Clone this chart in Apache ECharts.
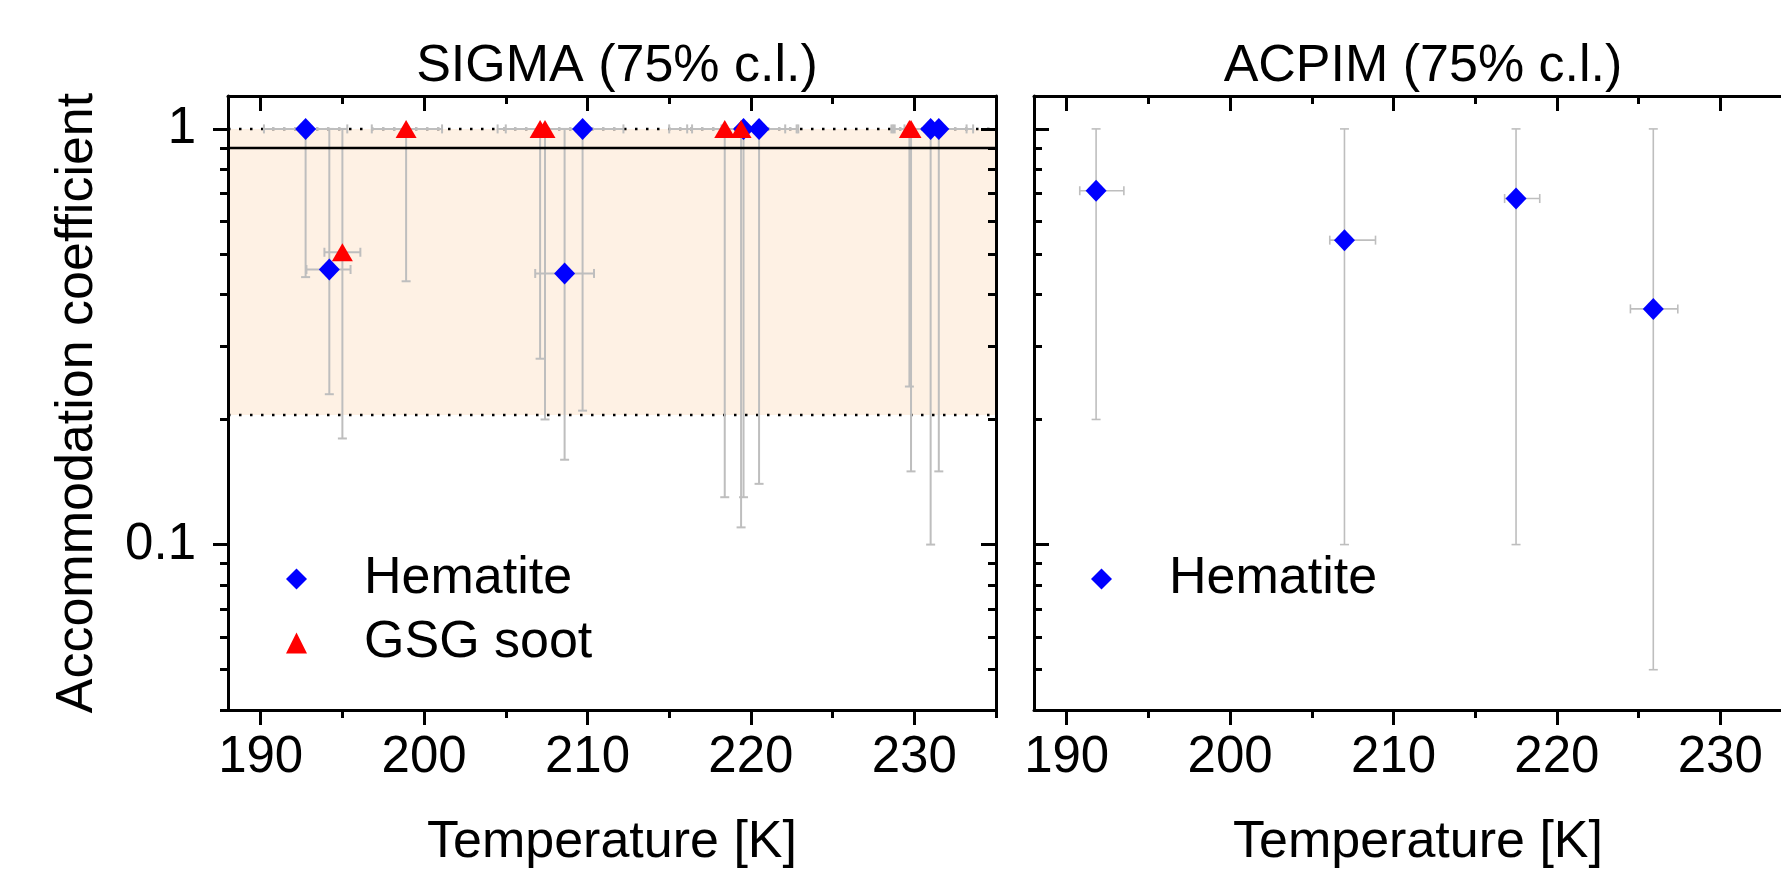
<!DOCTYPE html>
<html>
<head>
<meta charset="utf-8">
<title>Accommodation coefficient</title>
<script src="https://cdn.jsdelivr.net/npm/echarts@6/dist/echarts.min.js"></script>
<style>
  html, body { margin: 0; padding: 0; background: #fff; }
  #chart { width: 1781px; height: 874px; }
</style>
</head>
<body>
<div id="chart"></div>
<script>
// SIGMA (75% c.l.) - hematite
const sigmaHemT      = [192.75, 194.2, 208.6, 209.7, 219.55, 220.5, 231.0, 231.5];
const sigmaHemAc     = [1.0, 0.459, 0.449, 1.0, 1.0, 1.0, 1.0, 1.0];
const sigmaHemTLow   = [190.2, 192.8, 206.8, 207.2, 215.0, 218.2, 228.8, 229.4];
const sigmaHemTHigh  = [195.3, 195.5, 210.4, 212.2, 222.9, 222.8, 233.2, 233.6];
const sigmaHemAcLow  = [0.44, 0.23, 0.16, 0.21, 0.13, 0.14, 0.10, 0.15];
const sigmaHemAcHigh = [1, 1, 1, 1, 1, 1, 1, 1];

// SIGMA (75% c.l.) - GSG soot
const sigmaSootT      = [195.0, 198.9, 207.1, 207.4, 218.4, 219.4, 229.7, 229.8];
const sigmaSootAc     = [0.505, 1.0, 1.0, 1.0, 1.0, 1.0, 1.0, 1.0];
const sigmaSootTLow   = [193.9, 196.8, 204.5, 205.0, 216.1, 216.4, 228.6, 228.7];
const sigmaSootTHigh  = [196.1, 201.1, 209.7, 209.8, 220.7, 222.1, 230.8, 230.9];
const sigmaSootAcLow  = [0.18, 0.43, 0.28, 0.20, 0.13, 0.11, 0.24, 0.15];
const sigmaSootAcHigh = [1, 1, 1, 1, 1, 1, 1, 1];

// ACPIM (75% c.l.) - hematite
const acpimHemT      = [191.8, 207.0, 217.5, 225.9];
const acpimHemAc     = [0.71, 0.54, 0.68, 0.369];
const acpimHemTLow   = [190.8, 206.1, 216.8, 224.5];
const acpimHemTHigh  = [193.5, 208.9, 218.95, 227.4];
const acpimHemAcLow  = [0.2, 0.1, 0.1, 0.05];
const acpimHemAcHigh = [1, 1, 1, 1];

// SIGMA reference levels: shaded range and best estimate
const sigmaBand = [0.205, 1.0];
const sigmaBest = [0.9];

// axes
const tempMin = 188, tempMax = 235;
const tempMajor = [190, 200, 210, 220, 230];
const tempMinor = [195, 205, 215, 225, 235];
const acMin = 0.04, acMax = 1.2;
const acMajor = [0.1, 1];
const acMajorLabels = ['0.1', '1'];
const acMinor = [0.04, 0.05, 0.06, 0.07, 0.08, 0.09, 0.2, 0.3, 0.4, 0.5, 0.6, 0.7, 0.8, 0.9];

const FONT = '"Liberation Sans", Arial, Helvetica, sans-serif';
const lg = Math.log10;

function rows(t, a, tl, th, al, ah) {
  return t.map((v, i) => [v, lg(a[i]), tl[i], th[i], lg(al[i]), lg(ah[i])]);
}

function xAxesFor(grid) {
  const base = {
    type: 'value', gridIndex: grid, min: tempMin, max: tempMax,
    splitLine: { show: false }, axisLabel: { show: false },
    axisLine: { show: false, onZero: false }
  };
  const line = { show: true, onZero: false, lineStyle: { color: '#000', width: 3 } };
  const tick = (vals, len, inside) => ({ show: true, customValues: vals, length: len, inside: inside, lineStyle: { color: '#000', width: 3 } });
  return [
    Object.assign({}, base, {
      position: 'bottom', axisLine: line, axisTick: tick(tempMajor, 15, false),
      axisLabel: { show: true, customValues: tempMajor, margin: 22, fontSize: 51, color: '#000', fontFamily: FONT },
      name: 'Temperature [K]', nameLocation: 'middle', nameGap: 107,
      nameTextStyle: { fontSize: 52, color: '#000', fontFamily: FONT }
    }),
    Object.assign({}, base, { position: 'bottom', axisTick: tick(tempMinor, 8, false) }),
    Object.assign({}, base, { position: 'top', axisLine: line, axisTick: tick(tempMajor, 15, true) }),
    Object.assign({}, base, { position: 'top', axisTick: tick(tempMinor, 8, true) })
  ];
}

function yAxesFor(grid, labelled) {
  const base = {
    type: 'value', gridIndex: grid, min: lg(acMin), max: lg(acMax),
    splitLine: { show: false }, axisLabel: { show: false },
    axisLine: { show: false, onZero: false }
  };
  const line = { show: true, onZero: false, lineStyle: { color: '#000', width: 3 } };
  const tick = (vals, len, inside) => ({ show: true, customValues: vals.map(lg), length: len, inside: inside, lineStyle: { color: '#000', width: 3 } });
  const left = Object.assign({}, base, { position: 'left', axisLine: line, axisTick: tick(acMajor, 15, !labelled) });
  if (labelled) {
    left.axisLabel = {
      show: true, customValues: acMajor.map(lg), margin: 32, fontSize: 51, color: '#000', fontFamily: FONT,
      formatter: v => acMajorLabels[acMajor.findIndex(m => Math.abs(lg(m) - v) < 1e-6)]
    };
    left.name = 'Accommodation coefficient';
    left.nameLocation = 'middle';
    left.nameGap = 124;
    left.nameTextStyle = { fontSize: 52, color: '#000', fontFamily: FONT };
  }
  return [
    left,
    Object.assign({}, base, { position: 'left', axisTick: tick(acMinor, 8, !labelled) }),
    Object.assign({}, base, { position: 'right', axisLine: line, axisTick: tick(acMajor, 15, true) }),
    Object.assign({}, base, { position: 'right', axisTick: tick(acMinor, 8, true) })
  ];
}

function barRenderer(width) {
  return function (params, api) {
    const t = api.value(0), a = api.value(1);
    const l = api.coord([api.value(2), a]);
    const r = api.coord([api.value(3), a]);
    const lo = api.coord([t, api.value(4)]);
    const hi = api.coord([t, api.value(5)]);
    const c = 4.5;
    const style = { stroke: '#bebebe', lineWidth: width };
    const seg = (x1, y1, x2, y2) => ({ type: 'line', shape: { x1, y1, x2, y2 }, style });
    return {
      type: 'group',
      children: [
        seg(lo[0], lo[1], hi[0], hi[1]),
        seg(lo[0] - c, lo[1], lo[0] + c, lo[1]),
        seg(hi[0] - c, hi[1], hi[0] + c, hi[1]),
        seg(l[0], l[1], r[0], r[1]),
        seg(l[0], l[1] - c, l[0], l[1] + c),
        seg(r[0], r[1] - c, r[0], r[1] + c)
      ]
    };
  };
}

function refLine(value, dotted, z) {
  return {
    type: 'line', xAxisIndex: 0, yAxisIndex: 0, silent: true, symbol: 'none', z: z,
    lineStyle: { color: '#000', width: 2.5, type: dotted ? [2.5, 8.5] : 'solid' },
    data: [[tempMin, lg(value)], [tempMax, lg(value)]]
  };
}

const blue = '#0000ff', red = '#ff0000';
const diamond = [21, 22], triangle = [21, 18];

const option = {
  animation: false,
  backgroundColor: '#fff',
  title: [
    { text: 'SIGMA (75% c.l.)', left: 612, top: 36, textAlign: 'center',
      textStyle: { fontSize: 52, fontWeight: 'normal', color: '#000', fontFamily: FONT } },
    { text: 'ACPIM (75% c.l.)', left: 1418, top: 36, textAlign: 'center',
      textStyle: { fontSize: 52, fontWeight: 'normal', color: '#000', fontFamily: FONT } }
  ],
  legend: [
    { data: ['Hematite', 'GSG soot'], orient: 'vertical', left: 281, top: 548,
      itemWidth: 21, itemHeight: 21, itemGap: 12, selectedMode: false,
      textStyle: { fontSize: 52, lineHeight: 52, color: '#000', fontFamily: FONT, padding: [0, 0, 0, 52] } },
    { data: ['Hematite'], orient: 'vertical', left: 1086, top: 548,
      itemWidth: 21, itemHeight: 21, itemGap: 12, selectedMode: false,
      textStyle: { fontSize: 52, lineHeight: 52, color: '#000', fontFamily: FONT, padding: [0, 0, 0, 52] } }
  ],
  grid: [
    { left: 228, top: 96, width: 768, height: 614, outerBoundsMode: 'none' },
    { left: 1034, top: 96, width: 768, height: 614, outerBoundsMode: 'none' }
  ],
  xAxis: xAxesFor(0).concat(xAxesFor(1)),
  yAxis: yAxesFor(0, true).concat(yAxesFor(1, false)),
  series: [
    {
      type: 'custom', name: 'band', xAxisIndex: 0, yAxisIndex: 0, silent: true, z: 0,
      renderItem: function (params, api) {
        const p0 = api.coord([api.value(0), api.value(3)]);
        const p1 = api.coord([api.value(1), api.value(2)]);
        return { type: 'rect', shape: { x: p0[0], y: p0[1], width: p1[0] - p0[0], height: p1[1] - p0[1] },
                 style: { fill: '#fef1e4' } };
      },
      data: [[tempMin, tempMax, lg(sigmaBand[0]), lg(sigmaBand[1])]]
    },
    refLine(sigmaBand[0], true, 1),
    refLine(sigmaBand[1], true, 1),
    refLine(sigmaBest[0], false, 3),
    { type: 'custom', name: 'sigmaHemErr', xAxisIndex: 0, yAxisIndex: 0, silent: true, z: 2,
      renderItem: barRenderer(2),
      data: rows(sigmaHemT, sigmaHemAc, sigmaHemTLow, sigmaHemTHigh, sigmaHemAcLow, sigmaHemAcHigh) },
    { type: 'custom', name: 'sigmaSootErr', xAxisIndex: 0, yAxisIndex: 0, silent: true, z: 2,
      renderItem: barRenderer(2),
      data: rows(sigmaSootT, sigmaSootAc, sigmaSootTLow, sigmaSootTHigh, sigmaSootAcLow, sigmaSootAcHigh) },
    { type: 'custom', name: 'acpimHemErr', xAxisIndex: 4, yAxisIndex: 4, silent: true, z: 2,
      renderItem: barRenderer(1.6),
      data: rows(acpimHemT, acpimHemAc, acpimHemTLow, acpimHemTHigh, acpimHemAcLow, acpimHemAcHigh) },
    { type: 'scatter', name: 'Hematite', xAxisIndex: 0, yAxisIndex: 0, z: 4,
      symbol: 'diamond', symbolSize: diamond, itemStyle: { color: blue, opacity: 1 },
      data: sigmaHemT.map((t, i) => [t, lg(sigmaHemAc[i])]) },
    { type: 'scatter', name: 'GSG soot', xAxisIndex: 0, yAxisIndex: 0, z: 5,
      symbol: 'triangle', symbolSize: triangle, itemStyle: { color: red, opacity: 1 },
      data: sigmaSootT.map((t, i) => [t, lg(sigmaSootAc[i])]) },
    { type: 'scatter', name: 'Hematite', xAxisIndex: 4, yAxisIndex: 4, z: 4,
      symbol: 'diamond', symbolSize: diamond, itemStyle: { color: blue, opacity: 1 },
      data: acpimHemT.map((t, i) => [t, lg(acpimHemAc[i])]) }
  ]
};

const myChart = echarts.init(document.getElementById('chart'));
myChart.setOption(option);
</script>
</body>
</html>
